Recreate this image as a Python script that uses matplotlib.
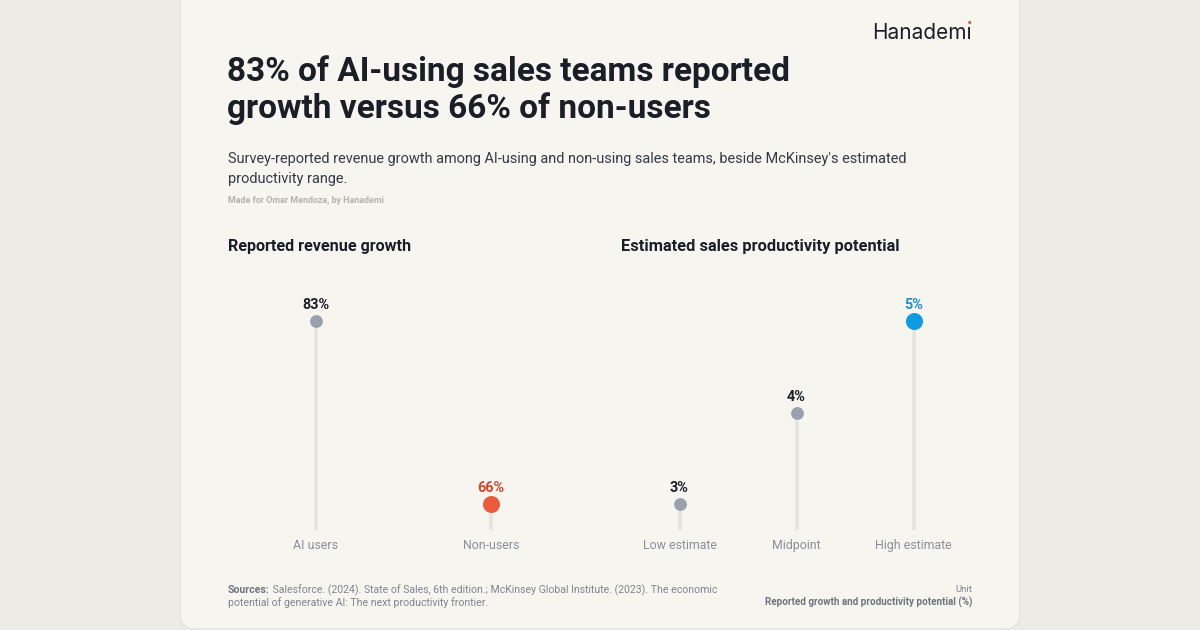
import matplotlib
matplotlib.use("Agg")
import matplotlib.pyplot as plt
from matplotlib.patches import FancyBboxPatch, Circle
from matplotlib.transforms import IdentityTransform

# ---- data ----
left_categories = ["AI users", "Non-users"]
left_values = [83, 66]
left_labels = ["83%", "66%"]
right_categories = ["Low estimate", "Midpoint", "High estimate"]
right_values = [3, 4, 5]
right_labels = ["3%", "4%", "5%"]

title = "83% of AI-using sales teams reported\ngrowth versus 66% of non-users"
subtitle = ("Survey-reported revenue growth among AI-using and non-using sales teams, beside McKinsey's estimated\n"
            "productivity range.")
credit = "Made for Omar Mendoza, by Hanademi"
left_title = "Reported revenue growth"
right_title = "Estimated sales productivity potential"
sources_bold = "Sources:"
sources_text = (" Salesforce. (2024). State of Sales, 6th edition.; McKinsey Global Institute. (2023). The economic\n"
                "potential of generative AI: The next productivity frontier.")
unit_label = "Unit"
unit_text = "Reported growth and productivity potential (%)"

# ---- style ----
W, H = 1200, 630
OUTER = "#ecebe6"
CARD = "#f6f5f0"
DARK = "#1b1e27"
GREY_DOT = "#9aa1ad"
STEM = "#e4e3de"
CAT = "#8a8f99"
ORANGE = "#ec5b3c"
ORANGE_TXT = "#d9452a"
BLUE = "#0d9be2"
BLUE_TXT = "#1d8fd2"
FONT = ["Roboto", "DejaVu Sans"]

plt.rcParams["font.family"] = FONT

fig = plt.figure(figsize=(W / 100, H / 100), dpi=100, facecolor=OUTER)


def fx(px):
    return px / W


def fy(py):
    return 1 - py / H


# card
card = FancyBboxPatch((180 + 16, 1 + 16), 840 - 32, 650 - 32,
                      boxstyle="round,pad=16", transform=IdentityTransform(),
                      facecolor=CARD, edgecolor="#e2e1dc", linewidth=0.8, zorder=0)
fig.add_artist(card)

# logo (dotless i + accent dot)
logo = fig.text(fx(972), fy(39), "Hanadem\u0131", ha="right", va="baseline",
                fontsize=15, color=DARK, family=["Inter", "DejaVu Sans"])

# title etc. (va=baseline anchors the last line)
fig.text(fx(227), fy(118), title, ha="left", va="baseline", fontsize=24,
         fontweight="bold", color=DARK, linespacing=1.17)
fig.text(fx(228), fy(183), subtitle, ha="left", va="baseline", fontsize=10.45,
         color="#343a46", linespacing=1.55)
fig.text(fx(228), fy(203), credit, ha="left", va="baseline", fontsize=6.4,
         color="#b3b3b0", fontweight="bold")

fig.text(fx(228), fy(251), left_title, ha="left", va="baseline", fontsize=11.6,
         fontweight="bold", color=DARK)
fig.text(fx(621), fy(251), right_title, ha="left", va="baseline", fontsize=11.8,
         fontweight="bold", color=DARK)


def lollipop(ax, cats, vals, labels, highlight, hl_color, hl_txt):
    ax.set_facecolor("none")
    x = list(range(len(cats)))
    lo, hi = min(vals), max(vals)
    span = hi - lo
    ax.set_ylim(lo - 0.142 * span, hi + 0.142 * span)
    ax.set_xlim(-0.5, len(cats) - 0.5)
    base = lo - 0.142 * span
    for i, v in enumerate(vals):
        ax.plot([i, i], [base, v], color=STEM, lw=2.6, solid_capstyle="butt", zorder=1)
        if i == highlight:
            ax.scatter([i], [v], s=150, color=hl_color, zorder=3, linewidths=0)
            tc = hl_txt
        else:
            ax.scatter([i], [v], s=85, color=GREY_DOT, zorder=3, linewidths=0)
            tc = DARK
        ax.annotate(labels[i], (i, v), xytext=(0, 11.5), textcoords="offset points",
                    ha="center", va="center", fontsize=10.4, fontweight="bold", color=tc)
    ax.set_xticks(x)
    ax.set_xticklabels(cats, fontsize=8.9, color=CAT)
    ax.tick_params(axis="x", length=0, pad=6.5)
    ax.set_yticks([])
    for s in ax.spines.values():
        s.set_visible(False)


axL = fig.add_axes([fx(228), fy(530), fx(579) - fx(228), fy(295) - fy(530)])
lollipop(axL, left_categories, left_values, left_labels, 1, ORANGE, ORANGE_TXT)
axR = fig.add_axes([fx(621), fy(530), fx(972) - fx(621), fy(295) - fy(530)])
lollipop(axR, right_categories, right_values, right_labels, 2, BLUE, BLUE_TXT)

# footer
src_b = fig.text(fx(228), fy(593), sources_bold, ha="left", va="baseline", fontsize=7.6,
                 fontweight="bold", color="#6f747d")
fig.canvas.draw()
r = fig.canvas.get_renderer()
bb = src_b.get_window_extent(r)
lines = sources_text.split("\n")
fig.text(bb.x1 / W, fy(593), lines[0], ha="left", va="baseline", fontsize=7.6, color="#80858e")
fig.text(fx(228), fy(606), lines[1], ha="left", va="baseline", fontsize=7.6, color="#80858e")
fig.text(fx(972), fy(592), unit_label, ha="right", va="baseline", fontsize=6.8, color="#80858e")
fig.text(fx(972), fy(606), unit_text, ha="right", va="baseline", fontsize=7.1,
         fontweight="bold", color="#6f747d")

# logo accent dot on the final i
lb = logo.get_window_extent(r)
fig.add_artist(Circle((lb.x1 - 2.3, lb.y1 + 0.5), 1.6, transform=IdentityTransform(),
                      facecolor=ORANGE, edgecolor="none", zorder=5))

fig.savefig("out.png", dpi=100, facecolor=OUTER)
